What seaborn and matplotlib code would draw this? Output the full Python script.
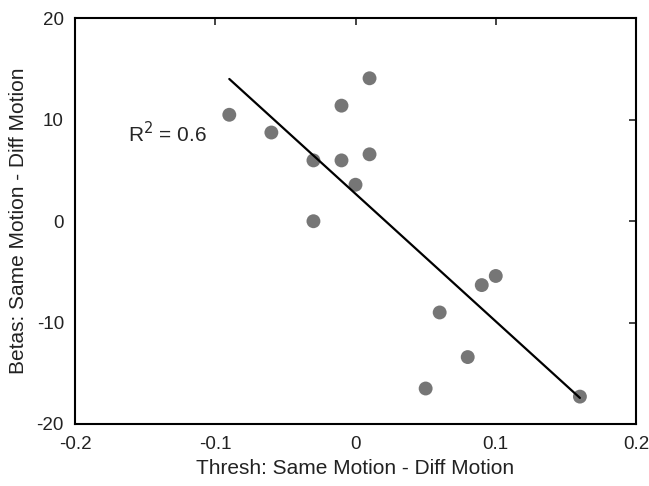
import numpy as np
import pandas as pd
import matplotlib
matplotlib.use("Agg")
import matplotlib.pyplot as plt
import seaborn as sns

sns.set_theme(style="white")
plt.rcParams['font.family'] = ['Liberation Sans', 'DejaVu Sans']
plt.rcParams['axes.unicode_minus'] = False

# threshold difference vs beta difference, one point per subject
thresh_diff = [-0.09, -0.06, -0.03, -0.03, -0.01, -0.01, 0.0, 0.01, 0.01,
               0.05, 0.06, 0.08, 0.09, 0.10, 0.16]
beta_diff = [10.5, 8.75, 6.0, 0.0, 6.0, 11.4, 3.6, 14.1, 6.6,
             -16.5, -9.0, -13.4, -6.3, -5.4, -17.3]

df = pd.DataFrame({'thresh': thresh_diff, 'beta': beta_diff})

fig = plt.figure(figsize=(6.49, 4.86), dpi=100)
ax = fig.add_axes([0.1156, 0.1276, 0.8644, 0.8344])

sns.regplot(data=df, x='thresh', y='beta', ci=None, truncate=True, ax=ax,
            scatter_kws={'s': 100, 'color': '#767676', 'edgecolor': 'none', 'alpha': 1},
            line_kws={'color': 'black', 'linewidth': 1.6})

ax.set_xlim(-0.2, 0.2)
ax.set_ylim(-20, 20)
ax.set_xticks([-0.2, -0.1, 0, 0.1, 0.2])
ax.set_xticklabels(['-0.2', '-0.1', '0', '0.1', '0.2'])
ax.set_yticks([-20, -10, 0, 10, 20])

ax.set_xlabel('Thresh: Same Motion - Diff Motion', fontsize=15, color='#222222', labelpad=4)
ax.set_ylabel('Betas: Same Motion - Diff Motion', fontsize=15, color='#222222', labelpad=6)
ax.tick_params(direction='in', length=5, width=1.2, top=True, right=True,
               labelsize=13.5, colors='#222222')
ax.tick_params(axis='x', pad=9)
ax.tick_params(axis='y', pad=8)
for sp in ax.spines.values():
    sp.set_visible(True)
    sp.set_color('black')
    sp.set_linewidth(1.5)

ax.text(-0.162, 8.6, 'R$^2$ = 0.6', fontsize=15, va='center', ha='left')

fig.savefig('out.png', dpi=100)
